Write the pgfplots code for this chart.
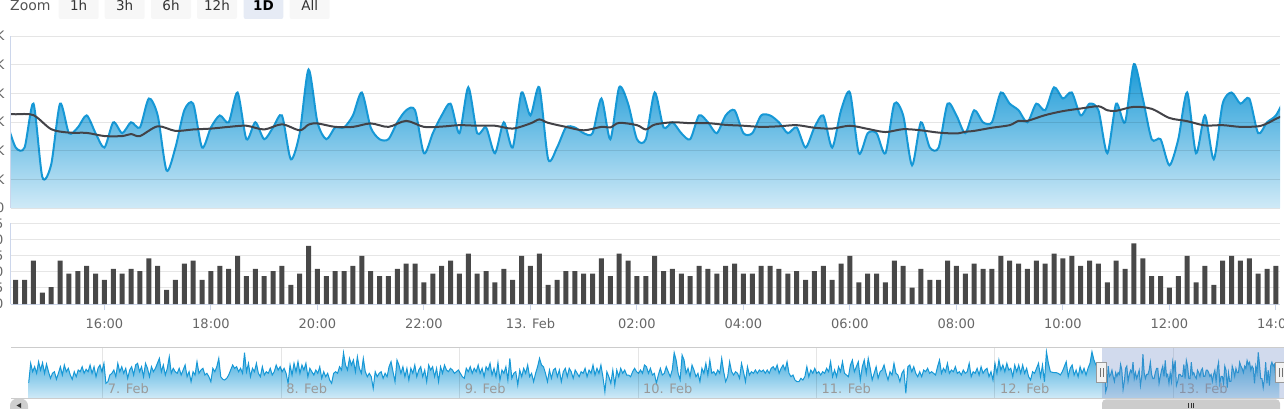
\documentclass[border=0pt]{standalone}
\usepackage{pgfplots}
\pgfplotsset{compat=1.18}
\usepackage{pgfplotstable}
\usepackage{fontspec}
\setmainfont{DejaVu Sans}
\definecolor{hcblue}{RGB}{22,152,214}
\definecolor{hcbluelight}{RGB}{208,234,247}
\definecolor{bargray}{RGB}{72,72,72}
\definecolor{magray}{RGB}{67,67,72}
\definecolor{axisblue}{RGB}{204,214,235}
\definecolor{labgray}{RGB}{102,102,102}
\definecolor{navlab}{RGB}{153,153,153}
\definecolor{navline}{RGB}{204,204,204}
\definecolor{gridgray}{RGB}{230,230,230}
\definecolor{maskblue}{RGB}{102,133,194}
\definecolor{btnfill}{RGB}{247,247,247}
\definecolor{btnsel}{RGB}{230,235,245}
\definecolor{txtdark}{RGB}{51,51,51}
\definecolor{handlefill}{RGB}{242,242,242}
\definecolor{handledraw}{RGB}{153,153,153}
\definecolor{scrollgray}{RGB}{204,204,204}
\newcommand{\ticklabfont}{\fontsize{13}{15}\selectfont}
\newcommand{\btnfont}{\fontsize{13.5}{16}\selectfont}

% i = 10-minute step from 12 Feb 14:20; b = volume bar; a = area value
\pgfplotstableread{
i b a
-1 10.9 2.99
0 7.5 2.11
1 7.5 2.11
2 13.4 3.64
3 3.5 1.08
4 5.2 1.52
5 13.4 3.64
6 9.4 2.61
7 10.2 2.81
8 11.8 3.23
9 9.4 2.61
10 7.5 2.11
11 10.9 2.99
12 9.4 2.61
13 10.9 2.99
14 10.2 2.81
15 14.1 3.82
16 11.8 3.23
17 4.4 1.31
18 7.5 2.11
19 12.5 3.41
20 13.4 3.64
21 7.5 2.11
22 10.2 2.81
23 11.8 3.23
24 10.9 2.99
25 14.9 4.03
26 8.6 2.40
27 10.9 2.99
28 8.6 2.40
29 10.2 2.81
30 11.8 3.23
31 5.9 1.70
32 9.4 2.61
33 18.0 4.83
34 10.9 2.99
35 8.6 2.40
36 10.2 2.81
37 10.2 2.81
38 11.8 3.23
39 14.9 4.03
40 10.2 2.81
41 8.6 2.40
42 8.6 2.40
43 10.9 2.99
44 12.5 3.41
45 12.5 3.41
46 6.7 1.91
47 9.4 2.61
48 11.8 3.23
49 13.4 3.64
50 9.4 2.61
51 15.6 4.21
52 9.4 2.61
53 10.2 2.81
54 6.7 1.91
55 10.9 2.99
56 7.5 2.11
57 14.9 4.03
58 11.8 3.23
59 15.6 4.21
60 5.9 1.70
61 7.5 2.11
62 10.2 2.81
63 10.2 2.81
64 9.4 2.61
65 9.4 2.61
66 14.1 3.82
67 8.6 2.40
68 15.6 4.21
69 13.4 3.64
70 8.6 2.40
71 8.6 2.40
72 14.9 4.03
73 10.2 2.81
74 10.9 2.99
75 9.4 2.61
76 8.6 2.40
77 11.8 3.23
78 10.9 2.99
79 9.4 2.61
80 11.8 3.23
81 12.5 3.41
82 9.4 2.61
83 9.4 2.61
84 11.8 3.23
85 11.8 3.23
86 10.9 2.99
87 9.4 2.61
88 10.2 2.81
89 7.5 2.11
90 10.2 2.81
91 11.8 3.23
92 7.5 2.11
93 12.5 3.41
94 14.9 4.03
95 6.7 1.91
96 9.4 2.61
97 9.4 2.61
98 6.7 1.91
99 13.4 3.64
100 11.8 3.23
101 5.1 1.49
102 10.9 2.99
103 7.5 2.11
104 7.5 2.11
105 13.4 3.64
106 11.8 3.23
107 9.4 2.61
108 12.5 3.41
109 10.9 2.99
110 10.9 2.99
111 14.9 4.03
112 13.4 3.64
113 12.5 3.41
114 10.9 2.99
115 13.4 3.64
116 12.5 3.41
117 15.6 4.21
118 14.1 3.82
119 14.9 4.03
120 11.8 3.23
121 13.4 3.64
122 12.5 3.41
123 6.7 1.91
124 13.4 3.64
125 10.9 2.99
126 18.75 5.02
127 14.1 3.82
128 8.6 2.40
129 8.6 2.40
130 5.1 1.49
131 8.6 2.40
132 14.9 4.03
133 6.7 1.91
134 11.8 3.23
135 5.9 1.70
136 13.4 3.64
137 14.9 4.03
138 13.4 3.64
139 14.1 3.82
140 9.4 2.61
141 10.9 2.99
142 11.8 3.23
143 14.1 3.82
}\maindata

% moving average line
\pgfplotstableread{
i m
-1 3.28
0 3.27
2 3.24
4 2.75
6 2.63
8 2.62
10 2.51
12 2.51
13 2.58
14 2.51
16 2.85
18 2.69
20 2.74
22 2.77
24 2.83
26 2.87
28 2.74
30 2.92
32 2.71
33 2.91
34 2.95
36 2.83
38 2.83
40 2.95
42 2.83
44 3.04
46 2.83
48 2.84
50 2.89
52 2.87
54 2.87
56 2.77
58 2.95
59 3.09
60 2.97
62 2.83
64 2.71
66 2.83
67 2.81
68 2.97
70 2.89
71 2.74
72 2.91
74 2.99
76 2.96
78 2.96
80 2.90
82 2.87
84 2.83
86 2.85
88 2.89
90 2.80
92 2.77
94 2.87
96 2.76
98 2.65
100 2.75
102 2.71
104 2.63
106 2.60
107 2.66
108 2.69
110 2.80
112 2.89
113 3.04
114 3.04
116 3.24
118 3.38
120 3.47
122 3.55
123 3.41
124 3.39
126 3.53
128 3.46
130 3.14
132 3.03
134 2.88
136 2.89
138 2.83
140 2.85
141 2.95
142 3.11
143 3.25
}\madata

% navigator series, 6 Feb 14:00 to 12 Feb 14:10, read every ~2 px
\pgfplotstableread{
a
1.98
3.92
3.08
3.58
2.92
4.08
3.25
3.98
2.92
3.85
3.08
2.42
2.92
3.08
2.32
2.92
3.58
2.75
3.75
3.08
3.42
2.75
2.32
3.08
2.58
3.25
3.08
3.58
2.92
3.32
3.08
3.75
2.92
3.58
2.58
3.42
3.75
3.08
3.92
1.92
2.08
2.75
2.92
3.25
2.58
3.92
3.08
3.58
2.92
3.42
2.42
3.25
3.58
2.75
3.75
3.92
3.08
3.58
2.58
3.92
3.42
2.58
3.58
3.08
3.42
3.92
4.42
3.08
3.75
2.75
3.42
4.58
2.92
3.42
3.08
2.92
3.42
2.75
3.25
3.75
2.58
3.08
2.08
3.08
2.75
4.08
2.92
3.25
3.42
2.75
2.92
2.58
2.08
3.42
3.08
3.58
4.42
2.58
2.32
2.25
2.42
2.75
3.25
3.75
3.42
3.58
3.08
3.42
2.92
4.98
3.08
3.92
2.58
3.42
3.08
3.92
2.92
2.58
3.58
2.75
3.08
2.92
3.42
2.75
3.08
3.75
3.25
3.58
3.08
3.42
2.92
1.92
3.75
2.75
3.92
3.08
4.08
2.92
3.75
3.25
3.92
2.58
3.42
3.08
2.75
3.25
2.92
3.58
2.42
3.08
2.58
2.92
2.25
1.92
2.92
3.08
2.92
3.58
3.25
4.98
3.75
3.25
4.42
3.75
4.25
3.08
4.58
3.42
2.92
4.42
3.08
2.58
2.92
2.58
1.42
3.08
2.58
2.92
3.08
2.42
2.92
2.58
3.58
4.08
3.08
2.08
4.25
3.75
2.92
3.58
2.58
3.42
2.25
3.42
2.92
3.75
2.58
3.25
3.58
2.58
3.25
2.08
3.75
3.25
3.58
2.58
3.42
2.08
3.58
2.92
3.75
3.25
3.08
3.42
3.25
2.92
3.08
3.25
2.92
2.58
2.42
3.42
3.08
3.58
2.92
3.42
3.08
3.75
2.92
3.42
2.58
3.58
3.25
3.92
2.75
3.42
2.58
3.98
2.25
3.25
2.92
3.58
2.25
4.42
2.42
2.92
3.08
1.75
3.25
2.58
3.42
2.92
3.75
2.58
2.92
2.08
2.92
3.58
4.42
3.75
3.58
2.92
2.08
3.25
2.42
3.25
3.42
2.58
3.25
2.08
3.08
3.42
2.58
3.42
3.08
2.42
3.25
2.92
2.58
3.08
2.92
3.42
2.58
3.25
2.92
3.75
2.75
3.42
2.92
3.75
2.58
1.08
3.08
2.58
1.92
3.25
1.75
3.25
2.58
3.42
2.92
3.25
2.75
2.75
2.58
3.08
3.42
3.08
2.92
3.25
2.92
3.75
3.58
2.92
3.42
2.75
2.92
1.92
2.75
3.42
2.75
2.92
3.58
3.08
2.58
3.25
4.98
4.25
2.92
2.25
4.75
4.25
2.92
3.42
2.58
3.75
3.25
2.58
2.92
2.08
3.42
2.92
3.92
2.75
4.25
2.92
3.08
2.75
3.25
2.92
4.42
3.08
2.08
2.58
4.08
3.08
2.75
3.08
2.92
2.42
3.92
3.08
2.08
3.58
2.75
3.08
2.92
3.25
2.92
3.25
3.08
3.25
2.92
3.25
2.92
3.42
3.58
3.25
3.75
2.92
3.42
3.75
3.25
4.08
2.92
2.58
2.75
2.25
2.08
2.08
2.42
2.25
2.58
3.58
2.58
3.25
2.92
3.42
2.92
3.08
2.75
3.08
2.92
3.42
3.08
4.08
2.58
3.25
2.58
3.58
3.08
4.08
2.92
2.75
2.58
3.75
4.25
3.08
3.58
4.08
2.25
3.58
4.25
2.92
4.42
3.42
2.25
2.92
3.58
2.42
3.08
3.25
3.75
2.92
2.25
3.08
2.75
3.92
2.92
2.75
2.08
2.92
3.25
0.92
3.58
3.75
3.08
3.58
2.92
2.58
3.08
2.58
3.25
3.08
3.42
2.92
3.08
2.92
2.75
3.58
4.25
2.92
3.42
3.08
3.92
2.92
3.25
3.08
3.58
2.92
3.08
2.75
3.25
2.92
3.08
3.92
2.58
3.08
2.92
3.42
2.75
3.58
2.92
3.25
3.42
2.58
3.08
2.25
3.92
2.92
4.25
3.25
3.75
3.08
3.92
3.25
3.42
2.58
3.75
3.08
3.75
2.92
3.75
2.92
3.42
2.58
2.25
3.08
2.92
3.42
3.92
2.58
3.75
2.08
5.08
3.92
3.08
3.02
2.98
2.98
2.92
2.75
3.08
3.58
4.08
2.58
3.42
3.75
2.75
3.25
2.58
3.58
2.92
3.42
2.75
3.42
3.92
5.08
4.25
3.75
3.75
2.99
2.11
}\navdata

\begin{document}
\begin{tikzpicture}[x=1pt,y=1pt]
\useasboundingbox (0pt,0pt) rectangle (1284pt,408pt);
\clip (0pt,0pt) rectangle (1284pt,408pt);

% ---------- main price pane ----------
\begin{axis}[
  at={(11pt,200pt)}, anchor=south west, scale only axis,
  width=1269pt, height=172pt,
  xmin=-0.53, xmax=142.46, ymin=0, ymax=6,
  axis x line=none, axis y line*=left,
  y axis line style={draw=axisblue, line width=1pt},
  xtick=\empty, ytick={0,1,2,3,4,5,6},
  yticklabels={0,10K,20K,30K,40K,50K,60K},
  ytick style={draw=none},
  yticklabel style={anchor=east, inner sep=0pt, xshift=-6.5pt, font=\ticklabfont, text=labgray},
  ymajorgrids, grid style={draw=black, draw opacity=0.1, line width=1pt},
  axis on top,
]
\addplot[draw=none, top color=hcblue, bottom color=hcbluelight, smooth, tension=0.45]
  table[x=i, y=a]{\maindata} \closedcycle;
\addplot[hcblue, line width=2pt, smooth, tension=0.45] table[x=i, y=a]{\maindata};
\addplot[magray, line width=2pt, smooth, tension=0.5] table[x=i, y=m]{\madata};
\end{axis}

% ---------- volume pane ----------
\begin{axis}[
  at={(11pt,104pt)}, anchor=south west, scale only axis,
  width=1269pt, height=80.7pt,
  xmin=-0.53, xmax=142.46, ymin=0, ymax=25,
  axis x line*=bottom, axis y line*=left,
  axis line style={draw=axisblue, line width=1pt},
  xtick={10,22,34,46,58,70,82,94,106,118,130,142},
  xticklabels={16:00,18:00,20:00,22:00,13. Feb,02:00,04:00,06:00,08:00,10:00,12:00,14:00},
  xtick style={draw=axisblue, line width=1pt},
  tick align=outside, major tick length=6pt,
  xticklabel style={anchor=base, inner sep=0pt, yshift=-18pt, font=\ticklabfont, text=labgray},
  ytick={0,5,10,15,20,25}, ytick style={draw=none},
  yticklabels={0,5,10,15,20,25},
  yticklabel style={anchor=east, inner sep=0pt, xshift=-1.5pt, font=\ticklabfont, text=labgray},
  ymajorgrids, grid style={draw=gridgray, line width=1pt},
]
\addplot[ybar, bar width=5pt, bar shift=0pt, fill=bargray, draw=none] table[x=i, y=b]{\maindata};
\end{axis}

% ---------- navigator ----------
\begin{axis}[
  at={(11pt,9.7pt)}, anchor=south west, scale only axis,
  width=1269pt, height=50.6pt,
  xmin=11, xmax=1280, ymin=0.42, ymax=5.48,
  axis line style={draw=none},
  xtick={102.7,281.1,459.6,638,816.4,994.9,1173.3},
  xticklabels={7. Feb,8. Feb,9. Feb,10. Feb,11. Feb,12. Feb,13. Feb},
  xticklabel style={anchor=base west, inner sep=0pt, xshift=5pt, yshift=5.3pt, font=\ticklabfont, text=navlab},
  ytick=\empty, tick style={draw=none}, major tick length=0pt,
  xmajorgrids, grid style={draw=black, draw opacity=0.1, line width=1pt},
  axis on top,
]
\addplot[draw=none, top color=hcblue!85, bottom color=hcbluelight]
  table[x expr=28.7+1.98*\coordindex, y=a]{\navdata} \closedcycle;
\addplot[hcblue, line width=1pt] table[x expr=28.7+1.98*\coordindex, y=a]{\navdata};
\addplot[draw=none, top color=hcblue!85, bottom color=hcbluelight]
  table[x expr=1102+1.24*\thisrow{i}, y=a]{\maindata} \closedcycle;
\addplot[hcblue, line width=1pt] table[x expr=1102+1.24*\thisrow{i}, y=a]{\maindata};
\end{axis}

% navigator outline, mask, handles
\draw[navline, line width=1pt] (11pt,60.3pt) -- (1284pt,60.3pt);
\draw[navline, line width=1pt] (11pt,9.7pt) -- (1284pt,9.7pt);
\fill[maskblue, fill opacity=0.3] (1101.5pt,9.7pt) rectangle (1284pt,60.3pt);
\draw[handledraw, fill=handlefill, line width=1pt] (1096.7pt,25.3pt) rectangle (1106.7pt,45.3pt);
\draw[txtdark!70, line width=0.8pt] (1100.2pt,31pt) -- (1100.2pt,40pt) (1103.2pt,31pt) -- (1103.2pt,40pt);
\draw[handledraw, fill=handlefill, line width=1pt] (1275.5pt,25.3pt) rectangle (1285.5pt,45.3pt);
\draw[txtdark!70, line width=0.8pt] (1279pt,31pt) -- (1279pt,40pt) (1282pt,31pt) -- (1282pt,40pt);

% scrollbar
\fill[scrollgray, rounded corners=4pt] (1102pt,-8pt) rectangle (1280pt,8.7pt);
\draw[txtdark, line width=0.8pt] (1188.5pt,0pt) -- (1188.5pt,4.7pt) (1191pt,0pt) -- (1191pt,4.7pt) (1193.5pt,0pt) -- (1193.5pt,4.7pt);
\fill[gridgray!90!black, rounded corners=7pt] (10pt,-8pt) rectangle (28pt,9.3pt);
\fill[txtdark] (16.5pt,2.5pt) -- (21pt,5pt) -- (21pt,0pt) -- cycle;

% range selector buttons
\node[anchor=base west, inner sep=0pt, font=\fontsize{14}{16}\selectfont, text=txtdark!85] at (10pt,397pt) {Zoom};
\fill[btnfill, rounded corners=2pt] (58.7pt,389pt) rectangle (98.7pt,415pt);
\fill[btnfill, rounded corners=2pt] (104.7pt,389pt) rectangle (144.7pt,415pt);
\fill[btnfill, rounded corners=2pt] (151pt,389pt) rectangle (191pt,415pt);
\fill[btnfill, rounded corners=2pt] (197pt,389pt) rectangle (237pt,415pt);
\fill[btnsel, rounded corners=2pt] (243.7pt,389pt) rectangle (283.3pt,415pt);
\fill[btnfill, rounded corners=2pt] (289.7pt,389pt) rectangle (329.7pt,415pt);
\node[anchor=base, inner sep=0pt, font=\btnfont, text=txtdark] at (78.7pt,397pt) {1h};
\node[anchor=base, inner sep=0pt, font=\btnfont, text=txtdark] at (124.7pt,397pt) {3h};
\node[anchor=base, inner sep=0pt, font=\btnfont, text=txtdark] at (171pt,397pt) {6h};
\node[anchor=base, inner sep=0pt, font=\btnfont, text=txtdark] at (217pt,397pt) {12h};
\node[anchor=base, inner sep=0pt, font=\btnfont\bfseries, text=black] at (263.5pt,397pt) {1D};
\node[anchor=base, inner sep=0pt, font=\btnfont, text=txtdark] at (309.7pt,397pt) {All};
\end{tikzpicture}
\end{document}
